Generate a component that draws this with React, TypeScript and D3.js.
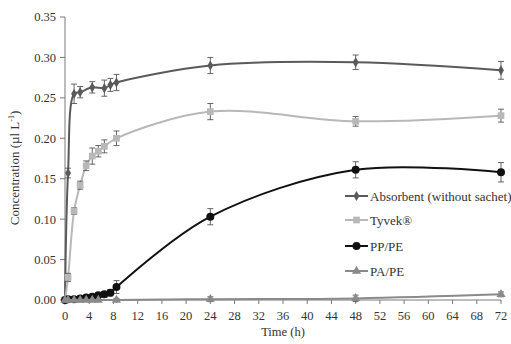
import React from "react";
import * as d3 from "d3";

const W = 511;
const H = 344;

const xTicks = [0, 4, 8, 12, 16, 20, 24, 28, 32, 36, 40, 44, 48, 52, 56, 60, 64, 68, 72];
const yTicks = [0, 0.05, 0.1, 0.15, 0.2, 0.25, 0.3, 0.35];

const absTimes = [0, 0.5, 1.5, 2.5, 4.5, 6.5, 7.5, 8.5, 24, 48, 72];
const absValues = [0, 0.157, 0.255, 0.257, 0.263, 0.262, 0.266, 0.269, 0.29, 0.294, 0.284];
const absErr = [0, 0.006, 0.012, 0.007, 0.007, 0.01, 0.008, 0.01, 0.01, 0.009, 0.011];

const tyvTimes = [0, 0.5, 1.5, 2.5, 3.5, 4.5, 5.5, 6.5, 8.5, 24, 48, 72];
const tyvValues = [0, 0.028, 0.11, 0.142, 0.166, 0.178, 0.184, 0.19, 0.2, 0.233, 0.221, 0.228];
const tyvErr = [0, 0.005, 0.004, 0.005, 0.006, 0.01, 0.007, 0.008, 0.009, 0.01, 0.006, 0.008];

const ppTimes = [0, 0.5, 1.5, 2.5, 3.5, 4.5, 5.5, 6.5, 7.5, 8.5, 24, 48, 72];
const ppValues = [0, 0.001, 0.001, 0.002, 0.003, 0.004, 0.006, 0.007, 0.009, 0.016, 0.103, 0.161, 0.158];
const ppErr = [0, 0.001, 0.001, 0.001, 0.002, 0.003, 0.003, 0.003, 0.004, 0.008, 0.01, 0.01, 0.012];

const paTimes = [0, 0.5, 1.5, 2.5, 3.5, 4.5, 5.5, 8.5, 24, 48, 72];
const paValues = [0, 0, 0, 0, 0, 0, 0, 0, 0.001, 0.002, 0.007];
const paErr = [0, 0, 0, 0, 0, 0, 0, 0.002, 0.003, 0.004, 0.003];

const seriesNames = ["Absorbent (without sachet)", "Tyvek®", "PP/PE", "PA/PE"];

type Series = {
  name: string;
  times: number[];
  values: number[];
  err: number[];
  color: string;
  marker: "diamond" | "square" | "circle" | "triangle";
  width: number;
};

const series: Series[] = [
  { name: seriesNames[0], times: absTimes, values: absValues, err: absErr, color: "#5a5a5a", marker: "diamond", width: 2 },
  { name: seriesNames[1], times: tyvTimes, values: tyvValues, err: tyvErr, color: "#b8b8b8", marker: "square", width: 2 },
  { name: seriesNames[2], times: ppTimes, values: ppValues, err: ppErr, color: "#111111", marker: "circle", width: 2 },
  { name: seriesNames[3], times: paTimes, values: paValues, err: paErr, color: "#8a8a8a", marker: "triangle", width: 2 },
];

const x = d3.scaleLinear().domain([0, 72]).range([65, 501]);
const y = d3.scaleLinear().domain([0, 0.35]).range([300, 17]);

const font = "Liberation Serif, Times New Roman, DejaVu Serif, serif";

function markerPath(kind: Series["marker"]) {
  const map: Record<string, d3.SymbolType> = {
    diamond: d3.symbolDiamond,
    square: d3.symbolSquare,
    circle: d3.symbolCircle,
    triangle: d3.symbolTriangle,
  };
  const size: Record<string, number> = { diamond: 30, square: 45, circle: 50, triangle: 36 };
  return d3.symbol(map[kind], size[kind])() as string;
}

const textStyle: React.CSSProperties = { fontFamily: font };

export default function App() {
  const line = d3
    .line<[number, number]>()
    .x((d) => x(d[0]))
    .y((d) => y(d[1]))
    .curve(d3.curveCatmullRom.alpha(0.5));

  const axisColor = "#7a7a7a";
  const legendX = 345;
  const legendY = [196, 220, 246, 271];

  return (
    <div style={{ position: "fixed", left: 0, top: 0 }}>
      <svg width={W} height={H} style={{ display: "block", background: "#fff" }}>
        <line x1={x(0)} x2={x(0)} y1={y(0.35)} y2={y(0)} stroke={axisColor} strokeWidth={1} />
        <line x1={x(0)} x2={x(72)} y1={y(0)} y2={y(0)} stroke={axisColor} strokeWidth={1} />
        {yTicks.map((t) => (
          <g key={"y" + t}>
            <line x1={x(0) - 5} x2={x(0)} y1={y(t)} y2={y(t)} stroke={axisColor} />
            <text x={x(0) - 9} y={y(t)} dy="0.35em" textAnchor="end" style={textStyle} fontSize={12.5} fill="#333">
              {d3.format(".2f")(t)}
            </text>
          </g>
        ))}
        {xTicks.map((t) => (
          <g key={"x" + t}>
            <line x1={x(t)} x2={x(t)} y1={y(0)} y2={y(0) + 4} stroke={axisColor} />
            <text x={x(t)} y={y(0) + 20} textAnchor="middle" style={textStyle} fontSize={12.5} fill="#333">
              {t}
            </text>
          </g>
        ))}
        <text x={283} y={336} textAnchor="middle" style={textStyle} fontSize={12.5} fill="#333">
          Time (h)
        </text>
        <text transform="translate(19,168) rotate(-90)" textAnchor="middle" style={textStyle} fontSize={13} fill="#333">
          Concentration (µl L<tspan dy="-5" fontSize={8}>-1</tspan>
          <tspan dy="5">)</tspan>
        </text>

        {series.map((s) => {
          const pts: [number, number][] = s.times.map((t, i) => [t, s.values[i]]);
          return (
            <g key={s.name}>
              <path d={line(pts) as string} fill="none" stroke={s.color} strokeWidth={s.width} />
              {pts.map((p, i) =>
                s.err[i] > 0 ? (
                  <g key={"e" + i} stroke="#555" strokeWidth={0.9}>
                    <line x1={x(p[0])} x2={x(p[0])} y1={y(p[1] - s.err[i])} y2={y(p[1] + s.err[i])} />
                    <line x1={x(p[0]) - 3} x2={x(p[0]) + 3} y1={y(p[1] - s.err[i])} y2={y(p[1] - s.err[i])} />
                    <line x1={x(p[0]) - 3} x2={x(p[0]) + 3} y1={y(p[1] + s.err[i])} y2={y(p[1] + s.err[i])} />
                  </g>
                ) : null
              )}
              {pts.map((p, i) => (
                <path key={"m" + i} d={markerPath(s.marker)} transform={`translate(${x(p[0])},${y(p[1])})`} fill={s.color} />
              ))}
            </g>
          );
        })}

        {series.map((s, i) => (
          <g key={"l" + s.name}>
            <line x1={legendX} x2={legendX + 23} y1={legendY[i]} y2={legendY[i]} stroke={s.color} strokeWidth={2} />
            <path d={markerPath(s.marker)} transform={`translate(${legendX + 11.5},${legendY[i]})`} fill={s.color} />
            <text x={legendX + 25} y={legendY[i]} dy="0.35em" style={textStyle} fontSize={13} fill="#333">
              {s.name}
            </text>
          </g>
        ))}
      </svg>
    </div>
  );
}
